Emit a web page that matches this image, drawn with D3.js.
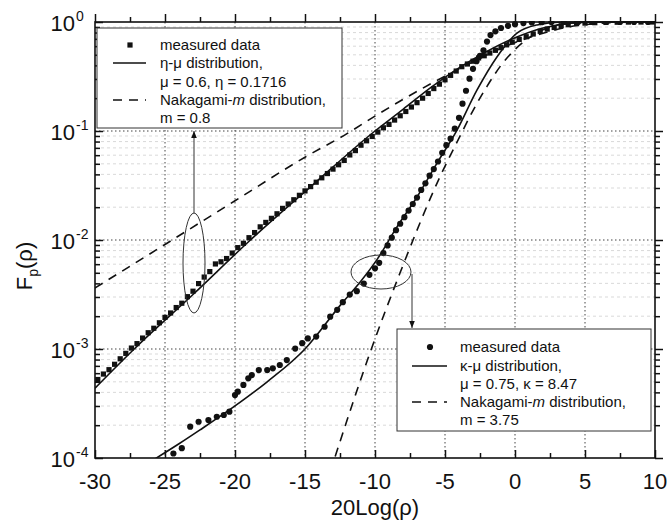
<!DOCTYPE html>
<html>
<head>
<meta charset="utf-8">
<script src="https://cdn.jsdelivr.net/npm/d3@7/dist/d3.min.js"></script>
<style>
body { margin: 0; background: #fff; }
text { font-family: "Liberation Sans", Arial, sans-serif; fill: #111; }
</style>
</head>
<body>
<script>
// values: [20Log(rho) in dB, F(rho)]
var etaMuMeasured = [
  [-29.8,5.25e-4],[-29.4,5.89e-4],[-29.0,6.46e-4],[-28.6,7.24e-4],[-28.2,8.13e-4],[-27.8,9.12e-4],
  [-27.4,1.02e-3],[-27.0,1.12e-3],[-26.6,1.26e-3],[-26.2,1.41e-3],[-25.8,1.55e-3],[-25.4,1.74e-3],
  [-25.0,1.95e-3],[-24.6,2.14e-3],[-24.2,2.40e-3],[-23.8,2.63e-3],[-23.4,3.02e-3],[-23.0,3.39e-3],
  [-22.6,3.98e-3],[-22.2,4.57e-3],[-21.8,5.13e-3],[-21.4,6.03e-3],[-21.0,6.31e-3],[-20.6,6.76e-3],
  [-20.2,7.59e-3],[-19.8,8.51e-3],[-19.4,9.33e-3],[-19.0,0.0105],[-18.6,0.0117],[-18.2,0.0132],
  [-17.8,0.0145],[-17.4,0.0158],[-17.0,0.0174],[-16.6,0.0195],[-16.2,0.0214],[-15.8,0.0234],
  [-15.4,0.0257],[-15.0,0.0282],[-14.6,0.0309],[-14.2,0.0339],[-13.8,0.0372],[-13.4,0.0407],
  [-13.0,0.0447],[-12.6,0.0490],[-12.2,0.0537],[-11.8,0.0603],[-11.4,0.0661],[-11.0,0.0741],
  [-10.6,0.0813],[-10.2,0.0891],[-9.8,0.0977],[-9.4,0.107],[-9.0,0.115],[-8.6,0.126],
  [-8.2,0.138],[-7.8,0.151],[-7.4,0.166],[-7.0,0.182],[-6.6,0.200],[-6.2,0.221],
  [-5.8,0.245],[-5.4,0.269],[-5.0,0.295],[-4.6,0.324],[-4.2,0.355],[-3.8,0.389],
  [-3.4,0.412],[-3.0,0.437],[-2.6,0.468],[-2.2,0.490],[-1.8,0.519],[-1.4,0.550],
  [-1.0,0.582],[-0.6,0.617],[-0.2,0.653],[0.3,0.692],[0.8,0.733],[1.3,0.776],
  [1.8,0.822],[2.3,0.861],[2.8,0.891],[3.3,0.923],[3.8,0.944],[4.4,0.966],
  [5.0,0.977],[5.7,0.986],[6.5,0.991],[7.3,0.995],[8.1,0.998],[9.0,0.999],[9.8,1.0]
];

var kappaMuMeasured = [
  [-24.4,1.10e-4],[-23.8,1.23e-4],[-23.2,1.94e-4],[-22.6,2.15e-4],[-21.9,2.23e-4],[-21.3,2.39e-4],
  [-20.8,2.48e-4],[-20.4,2.66e-4],[-20.0,3.78e-4],[-19.8,4.06e-4],[-19.4,4.68e-4],[-19.05,5.38e-4],
  [-18.8,5.77e-4],[-18.3,6.41e-4],[-17.7,6.41e-4],[-17.3,6.65e-4],[-16.8,7.13e-4],[-16.3,7.92e-4],
  [-15.7,1.01e-3],[-15.2,1.13e-3],[-14.8,1.25e-3],[-14.2,1.30e-3],[-13.6,1.60e-3],[-13.2,1.98e-3],
  [-12.7,2.29e-3],[-12.3,2.69e-3],[-11.8,3.16e-3],[-11.3,3.39e-3],[-10.8,3.98e-3],[-10.4,4.79e-3],
  [-10.0,5.50e-3],[-9.7,6.17e-3],[-9.4,7.59e-3],[-9.1,8.91e-3],[-8.8,0.0105],[-8.5,0.0123],
  [-8.2,0.0141],[-7.9,0.0162],[-7.6,0.0186],[-7.3,0.0214],[-7.0,0.0245],[-6.7,0.0288],
  [-6.4,0.0331],[-6.1,0.0389],[-5.8,0.0447],[-5.5,0.0525],[-5.2,0.0631],[-4.9,0.0741],
  [-4.6,0.0851],[-4.3,0.105],[-4.0,0.132],[-3.75,0.178],[-3.5,0.234],[-3.25,0.302],
  [-3.0,0.372],[-2.75,0.437],[-2.5,0.490],[-2.25,0.550],[-2.0,0.661],[-1.75,0.759],
  [-1.4,0.822],[-1.0,0.881],[-0.5,0.923],[0.0,0.955],[0.6,0.977],[1.2,0.989],
  [1.9,0.995],[2.6,0.998],[3.5,1.0],[4.5,1.0],[5.5,1.0],[6.5,1.0],[7.5,1.0],[8.5,1.0],[9.5,1.0]
];

var etaMuFit = [
  [-30,4.37e-4],[-27.2,1.0e-3],[-23,3.16e-3],[-18.9,0.01],[-14.5,0.0316],[-10,0.1],
  [-8,0.158],[-6,0.251],[-4,0.380],[-2,0.537],[0,0.716],[2,0.881],[4,0.973],[6,1.0],[10,1.0]
];

var nakagamiUpper = [
  [-30,3.63e-3],[-25,9.1e-3],[-20,0.0229],[-15,0.0575],[-12,0.0946],[-10,0.137],[-8,0.195],
  [-6,0.272],[-4,0.37],[-2,0.50],[0,0.647],[2,0.79],[4,0.91],[6,0.97],[8,0.995],[10,1.0]
];

var kappaMuFit = [
  [-26.5,8.5e-5],[-24,1.35e-4],[-22.5,1.81e-4],[-20.1,2.94e-4],[-17.7,5.0e-4],[-15,1.0e-3],
  [-12.5,2.5e-3],[-11,4.2e-3],[-9.86,6.6e-3],[-8.43,0.0132],[-7.0,0.0248],[-5.57,0.0508],
  [-4.14,0.102],[-2.71,0.238],[-1.29,0.478],[0.14,0.79],[1.57,0.94],[3.43,1.0],[10,1.0]
];

var nakagamiLower = [
  [-13.2,7.5e-5],[-12.86,1.02e-4],[-10.36,9.2e-4],[-8.21,5.0e-3],[-5.36,0.038],[-4,0.086],
  [-3,0.154],[-2,0.257],[-1,0.40],[0,0.56],[2,0.85],[4,0.98],[6,1.0],[10,1.0]
];

var xTicks = [-30, -25, -20, -15, -10, -5, 0, 5, 10];
var yDecades = [1e-4, 1e-3, 1e-2, 1e-1, 1];
var yExponents = ["-4", "-3", "-2", "-1", "0"];

var W = 669, H = 523;
var pL = 95, pR = 655, pT = 22, pB = 458;

var svg = d3.select("body").append("svg")
  .attr("width", W).attr("height", H);

var x = d3.scaleLinear().domain([-30, 10]).range([pL, pR]);
var y = d3.scaleLog().domain([1e-4, 1]).range([pB, pT]);

// minor values on y
var yMinor = [];
yDecades.slice(0, 4).forEach(function(d) {
  for (var k = 2; k <= 9; k++) yMinor.push(d * k);
});

var grid = svg.append("g");
grid.selectAll("line.minor").data(yMinor).enter().append("line")
  .attr("x1", pL).attr("x2", pR)
  .attr("y1", function(d) { return y(d); }).attr("y2", function(d) { return y(d); })
  .attr("stroke", "#cfcfcf").attr("stroke-width", 0.8).attr("stroke-dasharray", "3,3");
grid.selectAll("line.hmaj").data(yDecades.slice(1, 4)).enter().append("line")
  .attr("x1", pL).attr("x2", pR)
  .attr("y1", function(d) { return y(d); }).attr("y2", function(d) { return y(d); })
  .attr("stroke", "#444").attr("stroke-width", 1).attr("stroke-dasharray", "1.5,2.5");
grid.selectAll("line.vmaj").data(xTicks.slice(1, -1)).enter().append("line")
  .attr("y1", pT).attr("y2", pB)
  .attr("x1", function(d) { return x(d); }).attr("x2", function(d) { return x(d); })
  .attr("stroke", "#444").attr("stroke-width", 1).attr("stroke-dasharray", "1.5,2.5");

// axes with inward ticks
var xMinorTicks = d3.range(-27.5, 10, 5);
function xAxes(axisFn, ty) {
  svg.append("g").attr("transform", "translate(0," + ty + ")")
    .call(axisFn(x).tickValues(xTicks).tickSizeInner(ty === pB ? -8 : 8).tickSizeOuter(0).tickFormat(""))
    .call(function(g) { g.select(".domain").remove(); });
  svg.append("g").attr("transform", "translate(0," + ty + ")")
    .call(axisFn(x).tickValues(xMinorTicks).tickSizeInner(ty === pB ? -5 : 5).tickSizeOuter(0).tickFormat(""))
    .call(function(g) { g.select(".domain").remove(); });
}
xAxes(d3.axisBottom, pB);
xAxes(d3.axisTop, pT);

function yAxes(axisFn, tx) {
  svg.append("g").attr("transform", "translate(" + tx + ",0)")
    .call(axisFn(y).tickValues(yDecades).tickSizeInner(tx === pL ? -8 : 8).tickSizeOuter(0).tickFormat(""))
    .call(function(g) { g.select(".domain").remove(); });
  svg.append("g").attr("transform", "translate(" + tx + ",0)")
    .call(axisFn(y).tickValues(yMinor).tickSizeInner(tx === pL ? -5 : 5).tickSizeOuter(0).tickFormat(""))
    .call(function(g) { g.select(".domain").remove(); });
}
yAxes(d3.axisLeft, pL);
yAxes(d3.axisRight, pR);

svg.selectAll(".tick line").attr("stroke", "#111").attr("stroke-width", 1.5);

svg.append("rect")
  .attr("x", pL).attr("y", pT).attr("width", pR - pL).attr("height", pB - pT)
  .attr("fill", "none").attr("stroke", "#111").attr("stroke-width", 1.6);

// tick labels
svg.selectAll("text.xl").data(xTicks).enter().append("text")
  .attr("x", function(d) { return x(d); }).attr("y", 489)
  .attr("text-anchor", "middle").style("font-size", "22px")
  .text(function(d) { return d; });

var yl = svg.selectAll("g.yl").data(yDecades).enter().append("g");
yl.append("text")
  .attr("x", 75).attr("y", function(d) { return y(d) + 9; })
  .attr("text-anchor", "end").style("font-size", "22px").text("10");
yl.append("text")
  .attr("x", 76).attr("y", function(d) { return y(d) - 1; })
  .style("font-size", "14px")
  .text(function(d, i) { return yExponents[i]; });

svg.append("text").attr("x", (pL + pR) / 2).attr("y", 515)
  .attr("text-anchor", "middle").style("font-size", "22px").text("20Log(ρ)");

var ylab = svg.append("text")
  .attr("transform", "translate(32,266) rotate(-90)")
  .attr("text-anchor", "middle").style("font-size", "22px");
ylab.append("tspan").text("F");
ylab.append("tspan").attr("dy", 6).style("font-size", "14px").text("p");
ylab.append("tspan").attr("dy", -6).text("(ρ)");

// curves
svg.append("clipPath").attr("id", "plot").append("rect")
  .attr("x", pL).attr("y", pT - 1).attr("width", pR - pL).attr("height", pB - pT + 1);

var line = d3.line()
  .x(function(d) { return x(d[0]); })
  .y(function(d) { return y(d[1]); })
  .curve(d3.curveMonotoneX);

var curves = svg.append("g").attr("clip-path", "url(#plot)");
[[nakagamiUpper, "9,7"], [nakagamiLower, "9,7"], [etaMuFit, null], [kappaMuFit, null]].forEach(function(c) {
  curves.append("path").datum(c[0])
    .attr("d", line).attr("fill", "none")
    .attr("stroke", "#111").attr("stroke-width", 1.6)
    .attr("stroke-dasharray", c[1]);
});

curves.selectAll("rect.sq").data(etaMuMeasured).enter().append("rect")
  .attr("x", function(d) { return x(d[0]) - 2.6; })
  .attr("y", function(d) { return y(d[1]) - 2.6; })
  .attr("width", 5.2).attr("height", 5.2).attr("fill", "#111");

curves.selectAll("circle.ci").data(kappaMuMeasured).enter().append("circle")
  .attr("cx", function(d) { return x(d[0]); })
  .attr("cy", function(d) { return y(d[1]); })
  .attr("r", 3.1).attr("fill", "#111");

// annotations
svg.append("defs").append("marker")
  .attr("id", "arr").attr("viewBox", "0 0 10 10").attr("refX", 10).attr("refY", 5)
  .attr("markerWidth", 7).attr("markerHeight", 10).attr("markerUnits", "userSpaceOnUse")
  .attr("orient", "auto")
  .append("path").attr("d", "M0,1 L10,5 L0,9 Z").attr("fill", "#111");

svg.append("ellipse").attr("cx", 194).attr("cy", 263).attr("rx", 11).attr("ry", 50)
  .attr("fill", "none").attr("stroke", "#333").attr("stroke-width", 1);
svg.append("line").attr("x1", 194).attr("y1", 213).attr("x2", 194).attr("y2", 131)
  .attr("stroke", "#333").attr("stroke-width", 1).attr("marker-end", "url(#arr)");

svg.append("ellipse").attr("cx", 381).attr("cy", 272).attr("rx", 30).attr("ry", 17)
  .attr("fill", "none").attr("stroke", "#333").attr("stroke-width", 1);
svg.append("line").attr("x1", 412).attr("y1", 274).attr("x2", 412).attr("y2", 328)
  .attr("stroke", "#333").attr("stroke-width", 1).attr("marker-end", "url(#arr)");

// legends
function legend(bx, by, bw, bh, marker, rows) {
  var g = svg.append("g");
  g.append("rect").attr("x", bx).attr("y", by).attr("width", bw).attr("height", bh)
    .attr("fill", "#fff").attr("stroke", "#333").attr("stroke-width", 1);
  rows.forEach(function(r) {
    var t = g.append("text").attr("x", r.tx).attr("y", r.y).style("font-size", "15px");
    r.parts.forEach(function(p) {
      var s = t.append("tspan").text(p[0]);
      if (p[1]) s.style("font-style", "italic");
    });
    if (r.sym === "dot") {
      if (marker === "sq") {
        g.append("rect").attr("x", r.sx - 2.6).attr("y", r.y - 7.6).attr("width", 5.2).attr("height", 5.2).attr("fill", "#111");
      } else {
        g.append("circle").attr("cx", r.sx).attr("cy", r.y - 5).attr("r", 3.1).attr("fill", "#111");
      }
    } else if (r.sym) {
      g.append("line").attr("x1", r.l1).attr("x2", r.l2).attr("y1", r.y - 5).attr("y2", r.y - 5)
        .attr("stroke", "#111").attr("stroke-width", 1.6)
        .attr("stroke-dasharray", r.sym === "dash" ? "9,7" : null);
    }
  });
}

legend(97, 28, 245, 100, "sq", [
  { tx: 160, y: 50, sym: "dot", sx: 130, parts: [["measured data"]] },
  { tx: 160, y: 68, sym: "solid", l1: 113, l2: 146, parts: [["η-μ distribution,"]] },
  { tx: 160, y: 87, parts: [["μ = 0.6, η = 0.1716"]] },
  { tx: 160, y: 105, sym: "dash", l1: 113, l2: 146, parts: [["Nakagami-"], ["m", true], [" distribution,"]] },
  { tx: 160, y: 123, parts: [["m = 0.8"]] }
]);

legend(397, 329, 254, 102, "ci", [
  { tx: 460, y: 352, sym: "dot", sx: 430, parts: [["measured data"]] },
  { tx: 460, y: 371, sym: "solid", l1: 412, l2: 447, parts: [["κ-μ distribution,"]] },
  { tx: 460, y: 389, parts: [["μ = 0.75, κ = 8.47"]] },
  { tx: 460, y: 407, sym: "dash", l1: 412, l2: 447, parts: [["Nakagami-"], ["m", true], [" distribution,"]] },
  { tx: 460, y: 425, parts: [["m = 3.75"]] }
]);
</script>
</body>
</html>
